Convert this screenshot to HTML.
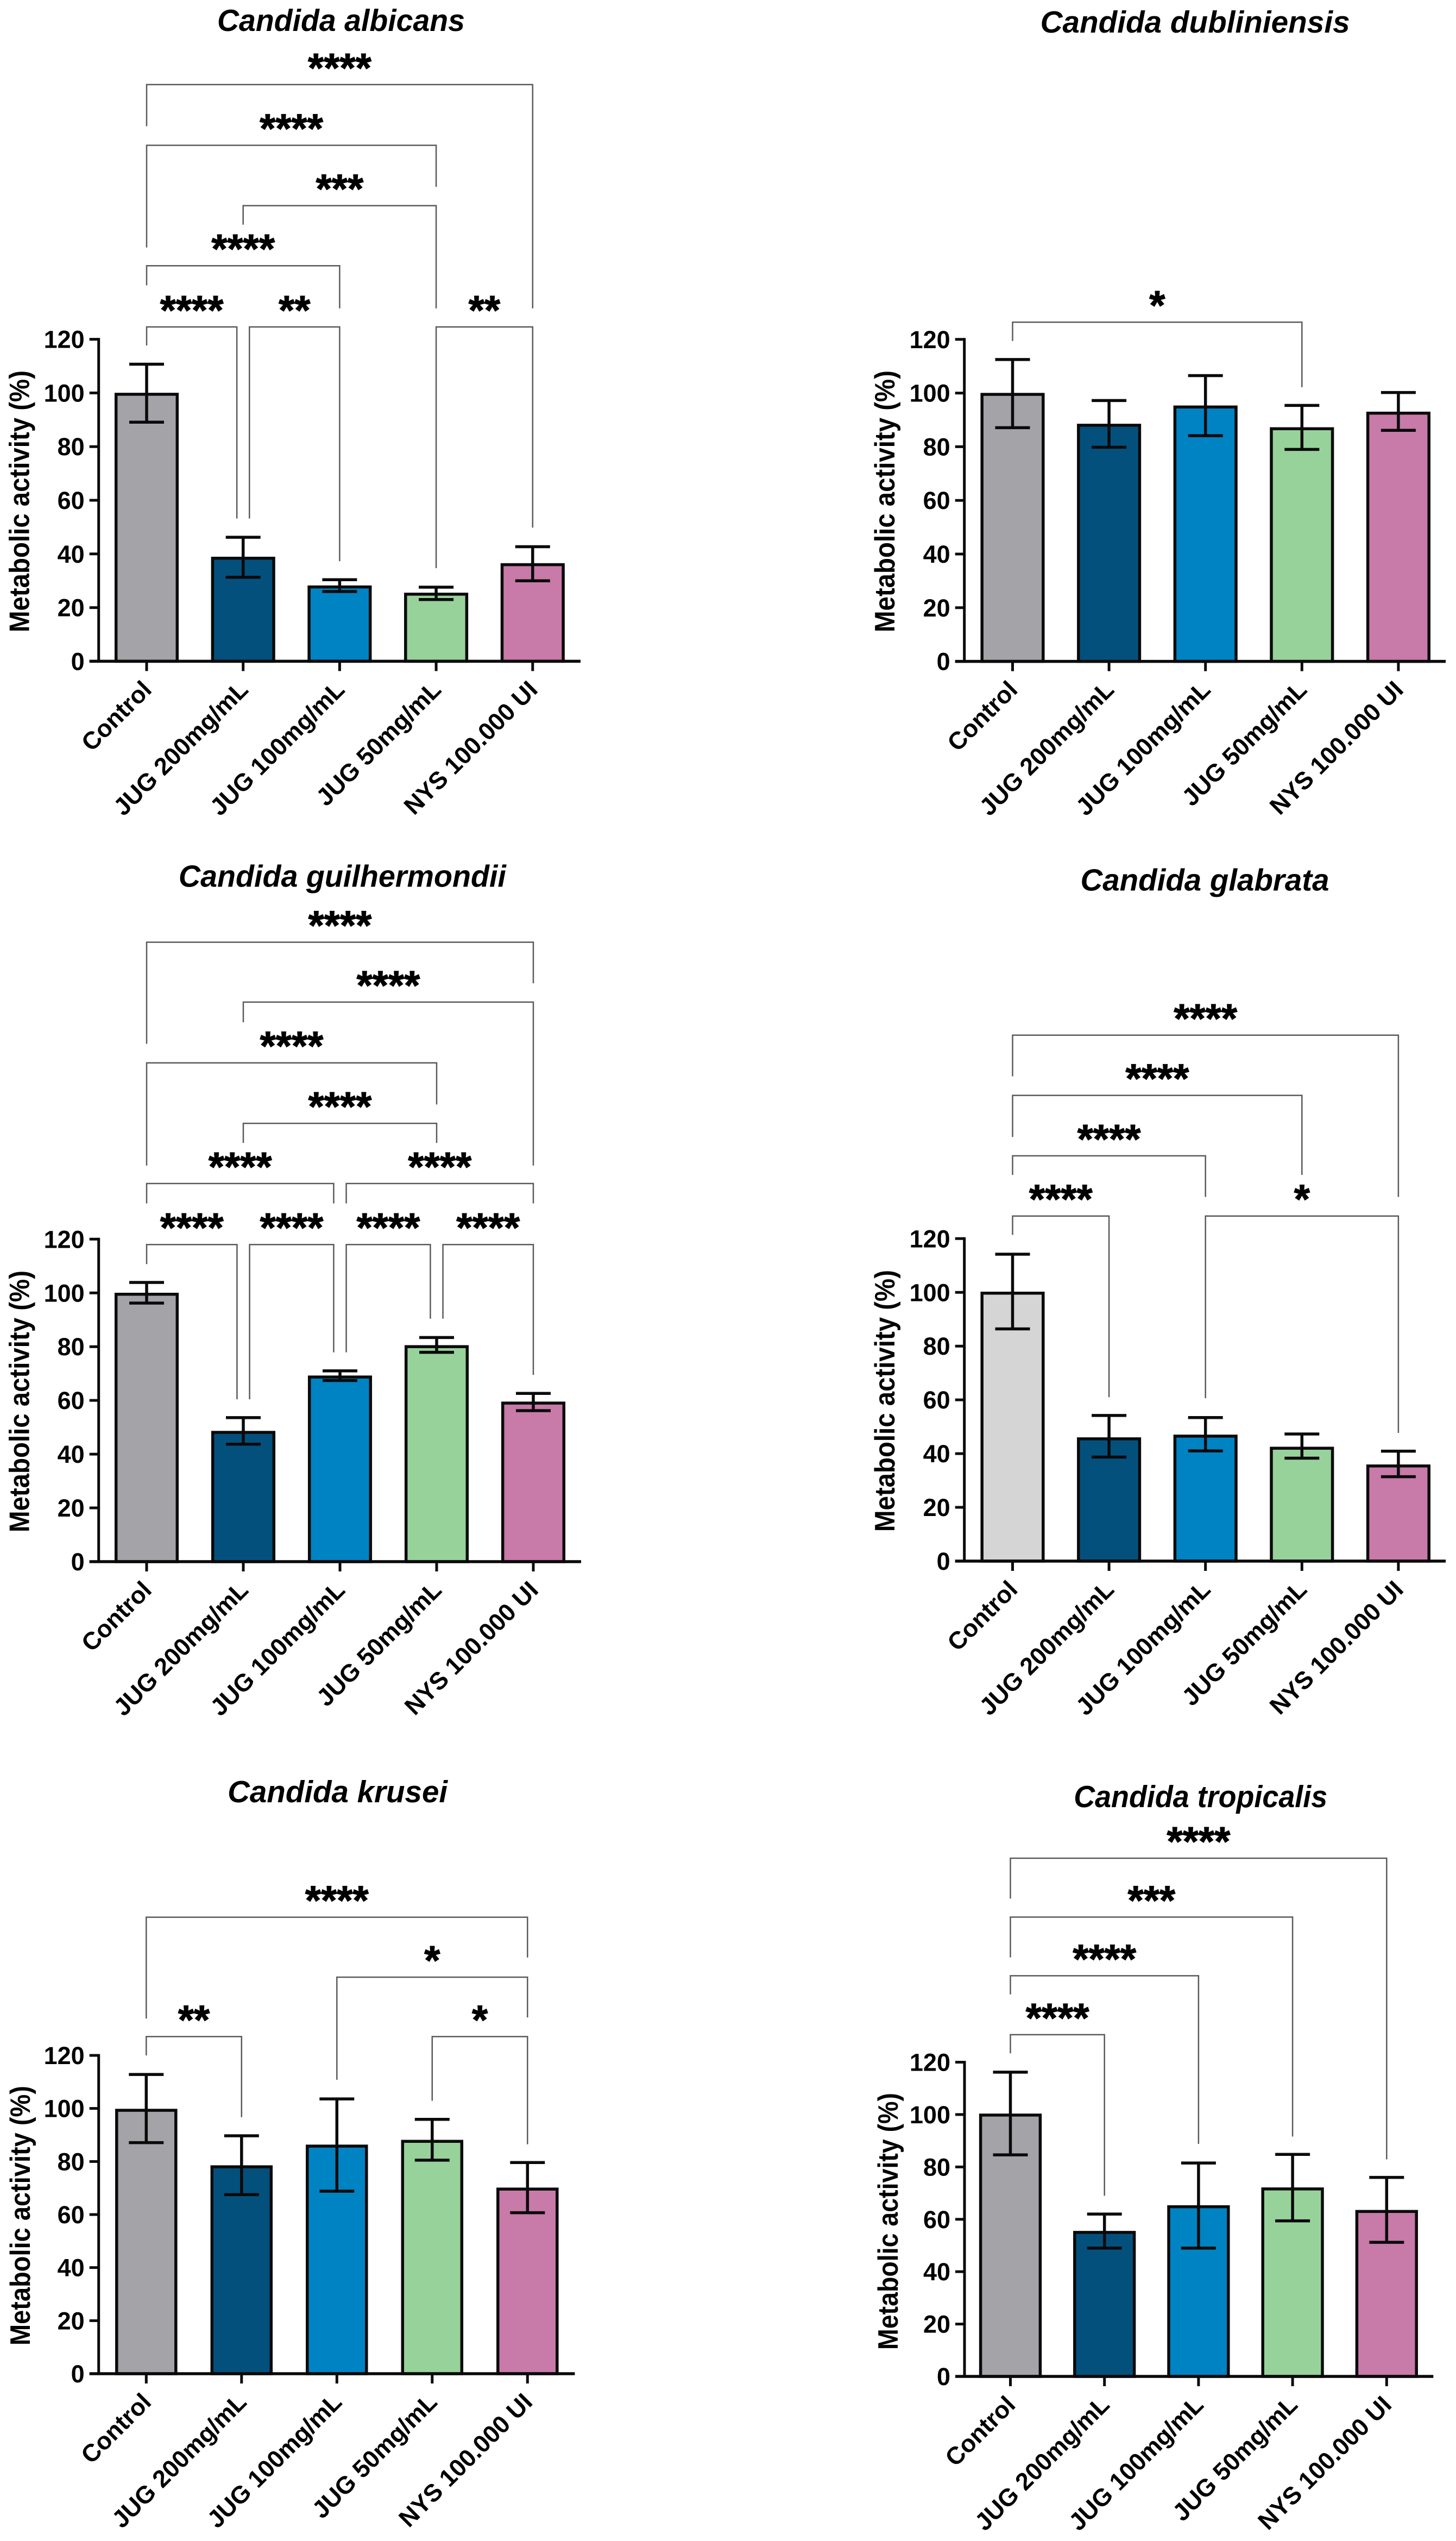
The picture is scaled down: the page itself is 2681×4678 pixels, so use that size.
<!DOCTYPE html>
<html lang="en">
<head>
<meta charset="utf-8">
<title>Metabolic activity of Candida species</title>
<style>
html,body{margin:0;padding:0;background:#fff;}
svg{display:block;}
text{font-family:"Liberation Sans",sans-serif;fill:#000;}
.chart-title{font-weight:bold;font-style:italic;font-size:57px;text-anchor:middle;}
</style>
</head>
<body>
<svg id="figure" xmlns="http://www.w3.org/2000/svg" width="2681" height="4678" viewBox="0 0 2681 4678">
  <rect x="0" y="0" width="2681" height="4678" fill="#ffffff"/>
  <g id="panel-albicans">
    <text class="chart-title" x="628" y="57" textLength="456" lengthAdjust="spacingAndGlyphs">Candida albicans</text>
  </g>
  <g id="panel-dubliniensis">
    <text class="chart-title" x="2200.6" y="59.8" textLength="570" lengthAdjust="spacingAndGlyphs">Candida dubliniensis</text>
  </g>
  <g id="panel-guilhermondii">
    <text class="chart-title" x="630.4" y="1632.7" textLength="603" lengthAdjust="spacingAndGlyphs">Candida guilhermondii</text>
  </g>
  <g id="panel-glabrata">
    <text class="chart-title" x="2218.5" y="1639.7" textLength="458" lengthAdjust="spacingAndGlyphs">Candida glabrata</text>
  </g>
  <g id="panel-krusei">
    <text class="chart-title" x="621.6" y="3318" textLength="405" lengthAdjust="spacingAndGlyphs">Candida krusei</text>
  </g>
  <g id="panel-tropicalis">
    <text class="chart-title" x="2210.7" y="3327" textLength="467" lengthAdjust="spacingAndGlyphs">Candida tropicalis</text>
  </g>
</svg>
<script>
const categories = ['Control', 'JUG 200mg/mL', 'JUG 100mg/mL', 'JUG 50mg/mL', 'NYS 100.000 UI'];
const yTicks = [0, 20, 40, 60, 80, 100, 120];
const yAxisTitle = 'Metabolic activity (%)';

const albicansMeans = [99.5, 38.4, 27.7, 25.0, 36.0];
const albicansUpper = [110.7, 46.2, 30.4, 27.6, 42.7];
const albicansLower = [89.1, 31.3, 26.0, 23.0, 30.0];

const dubliniensisMeans = [99.5, 88.0, 94.8, 86.7, 92.5];
const dubliniensisUpper = [112.5, 97.2, 106.5, 95.4, 100.2];
const dubliniensisLower = [87.1, 79.8, 84.1, 79.0, 86.1];

const guilhermondiiMeans = [99.5, 48.1, 68.7, 80.0, 59.0];
const guilhermondiiUpper = [103.9, 53.6, 71.0, 83.4, 62.6];
const guilhermondiiLower = [96.2, 43.7, 67.4, 77.9, 56.2];

const glabrataMeans = [99.7, 45.5, 46.5, 42.0, 35.4];
const glabrataUpper = [114.2, 54.2, 53.4, 47.3, 40.9];
const glabrataLower = [86.4, 38.7, 41.0, 38.3, 31.4];

const kruseiMeans = [99.3, 78.0, 85.8, 87.6, 69.6];
const kruseiUpper = [112.8, 89.7, 103.6, 95.9, 79.6];
const kruseiLower = [87.1, 67.5, 68.8, 80.5, 60.7];

const tropicalisMeans = [99.8, 55.0, 64.8, 71.6, 63.0];
const tropicalisUpper = [116.2, 62.0, 81.5, 84.8, 76.0];
const tropicalisLower = [84.6, 49.0, 49.0, 59.4, 51.2];

// Significance rows: [from category, to category, top value, left-leg end value, right-leg end value, stars]
const albicansBrackets = [
  [0, 4, 214.9, 199.4, 131.5, '****'],
  [0, 3, 192.3, 154.2, 176.8, '****'],
  [1, 3, 169.8, 162.7, 131.5, '***'],
  [0, 2, 147.4, 140.1, 131.5, '****'],
  [0, 0.935, 124.6, 117.7, 53.2, '****'],
  [1.065, 2, 124.6, 53.2, 37.3, '**'],
  [3, 4, 124.6, 34.7, 49.8, '**']
];
const dubliniensisBrackets = [
  [0, 3, 126.4, 119.4, 102.2, '*']
];
const guilhermondiiBrackets = [
  [0, 4, 230.5, 192.7, 215.2, '****'],
  [1, 4, 208.2, 200.7, 147.4, '****'],
  [0, 3, 185.6, 147.4, 170.1, '****'],
  [1, 3, 163.1, 155.8, 155.8, '****'],
  [0, 1.935, 140.7, 133.3, 133.3, '****'],
  [2.065, 4, 140.7, 133.3, 133.3, '****'],
  [0, 0.935, 118, 110.7, 60.4, '****'],
  [1.065, 1.935, 118, 60.4, 77.9, '****'],
  [2.065, 2.935, 118, 77.9, 90.4, '****'],
  [3.065, 4, 118, 90.4, 69.5, '****']
];
const glabrataBrackets = [
  [0, 4, 195.7, 180.4, 135.5, '****'],
  [0, 3, 173.3, 157.8, 143.7, '****'],
  [0, 2, 150.8, 143.7, 135.5, '****'],
  [0, 1, 128.4, 121.4, 61, '****'],
  [2, 4, 128.4, 60.6, 47.7, '*']
];
const kruseiBrackets = [
  [0, 4, 172.1, 133.9, 156.9, '****'],
  [2, 4, 149.5, 110.8, 134.3, '*'],
  [0, 1, 127.1, 120, 96.7, '**'],
  [3, 4, 127.1, 102.9, 86.5, '*']
];
const tropicalisBrackets = [
  [0, 4, 197.9, 182.5, 82.9, '****'],
  [0, 3, 175.4, 160, 91.6, '***'],
  [0, 2, 153, 145.9, 88.8, '****'],
  [0, 1, 130.5, 123.4, 69, '****']
];

const barColors = ['#a4a3a8', '#04507d', '#0083c3', '#98d29b', '#c87aa8'];
const glabrataColors = ['#d5d5d5', '#04507d', '#0083c3', '#98d29b', '#c87aa8'];

const charts = [
  { key: 'albicans', means: albicansMeans, upper: albicansUpper, lower: albicansLower, brackets: albicansBrackets, colors: barColors, axisX: 181.7, firstX: 270, stepX: 177.7, endX: 1069, y0: 1217.4, y120: 624.6, barW: 112.6, titleBase: 53.5, titleBottom: 1164, titleLen: 482 },
  { key: 'dubliniensis', means: dubliniensisMeans, upper: dubliniensisUpper, lower: dubliniensisLower, brackets: dubliniensisBrackets, colors: barColors, axisX: 1775.7, firstX: 1864.5, stepX: 177.6, endX: 2662, y0: 1217.6, y120: 624.8, barW: 112.6, titleBase: 1647, titleBottom: 1164, titleLen: 482 },
  { key: 'guilhermondii', means: guilhermondiiMeans, upper: guilhermondiiUpper, lower: guilhermondiiLower, brackets: guilhermondiiBrackets, colors: barColors, axisX: 181.7, firstX: 270, stepX: 178, endX: 1070, y0: 2875, y120: 2281.3, barW: 112.6, titleBase: 53.5, titleBottom: 2821, titleLen: 482 },
  { key: 'glabrata', means: glabrataMeans, upper: glabrataUpper, lower: glabrataLower, brackets: glabrataBrackets, colors: glabrataColors, axisX: 1775.7, firstX: 1864.5, stepX: 177.6, endX: 2662, y0: 2874, y120: 2280.3, barW: 112.6, titleBase: 1647, titleBottom: 2820, titleLen: 482 },
  { key: 'krusei', means: kruseiMeans, upper: kruseiUpper, lower: kruseiLower, brackets: kruseiBrackets, colors: barColors, axisX: 181.7, firstX: 269.3, stepX: 175.5, endX: 1058.5, y0: 4370, y120: 3784, barW: 109, titleBase: 55, titleBottom: 4318, titleLen: 478 },
  { key: 'tropicalis', means: tropicalisMeans, upper: tropicalisUpper, lower: tropicalisLower, brackets: tropicalisBrackets, colors: barColors, axisX: 1776, firstX: 1860.5, stepX: 173.2, endX: 2639.3, y0: 4375, y120: 3796.5, barW: 109.8, titleBase: 1653, titleBottom: 4326, titleLen: 473 }
];

const SVG_NS = 'http://www.w3.org/2000/svg';

function make(tag, parent, attrs, text) {
  const el = document.createElementNS(SVG_NS, tag);
  for (const k in attrs) el.setAttribute(k, attrs[k]);
  if (text !== undefined) el.textContent = text;
  parent.appendChild(el);
  return el;
}

function drawChart(c) {
  const root = document.getElementById('panel-' + c.key);
  const xScale = function (i) { return c.firstX + i * c.stepX; };
  const yScale = function (v) { return c.y0 - (v / 120) * (c.y0 - c.y120); };
  const black = '#0a0a0a';

  // Bars
  c.means.forEach(function (m, i) {
    const bar = make('rect', root, { x: xScale(i) - c.barW / 2, y: yScale(m), width: c.barW, height: c.y0 - yScale(m), fill: c.colors[i], stroke: black, 'stroke-width': 5.5 });
    
    
  });

  // Error bars
  c.means.forEach(function (m, i) {
    const g = make('g', root, { stroke: black, 'stroke-width': 5.5, fill: 'none' });
    
    
    const x = xScale(i);
    make('line', g, { x1: x, x2: x, y1: yScale(c.upper[i]), y2: yScale(c.lower[i]) });
    make('line', g, { x1: x - 32, x2: x + 32, y1: yScale(c.upper[i]), y2: yScale(c.upper[i]) });
    make('line', g, { x1: x - 32, x2: x + 32, y1: yScale(c.lower[i]), y2: yScale(c.lower[i]) });
  });

  // Axes
  const yAxis = make('line', root, { x1: c.axisX, x2: c.axisX, y1: yScale(120) - 2.5, y2: c.y0, stroke: black, 'stroke-width': 5 });
  
  
  const xAxis = make('line', root, { x1: c.axisX - 17, x2: c.endX, y1: c.y0, y2: c.y0, stroke: black, 'stroke-width': 5.5 });
  
  

  // Y ticks and labels
  yTicks.forEach(function (t) {
    const y = yScale(t);
    const tick = make('line', root, { x1: c.axisX - 17, x2: c.axisX, y1: y, y2: y, stroke: black, 'stroke-width': 5 });
    
    
    const label = make('text', root, { x: c.axisX - 26, y: y + 16, 'text-anchor': 'end', 'font-weight': 'bold', 'font-size': 45 }, String(t));
    
    
  });

  // Y title
  const yTitle = make('text', root, { x: c.titleBase, y: c.titleBottom, transform: 'rotate(-90 ' + c.titleBase + ' ' + c.titleBottom + ')', 'text-anchor': 'start', 'font-weight': 'bold', 'font-size': 52, textLength: c.titleLen, lengthAdjust: 'spacingAndGlyphs' }, yAxisTitle);
  
  

  // X ticks and labels
  categories.forEach(function (name, i) {
    const x = xScale(i);
    const tick = make('line', root, { x1: x, x2: x, y1: c.y0, y2: c.y0 + 18, stroke: black, 'stroke-width': 5 });
    
    
    const lx = x + 11.7;
    const ly = c.y0 + 55;
    const label = make('text', root, { x: lx, y: ly, transform: 'rotate(-45 ' + lx + ' ' + ly + ')', 'text-anchor': 'end', 'font-weight': 'bold', 'font-size': 45 }, name);
    
    
  });

  // Significance brackets
  c.brackets.forEach(function (b, i) {
    const xa = xScale(b[0]);
    const xb = xScale(b[1]);
    const top = yScale(b[2]);
    const path = make('path', root, { d: 'M' + xa + ' ' + yScale(b[3]) + 'V' + top + 'H' + xb + 'V' + yScale(b[4]), fill: 'none', stroke: '#5a5a5a', 'stroke-width': 2.5 });
    
    
    const stars = make('text', root, { x: (xa + xb) / 2, y: top - 5, 'text-anchor': 'middle', 'font-weight': 'bold', 'font-size': 75, stroke: '#000', 'stroke-width': 1.2 }, b[5]);
    
    
  });
}

charts.forEach(drawChart);
</script>
</body>
</html>
